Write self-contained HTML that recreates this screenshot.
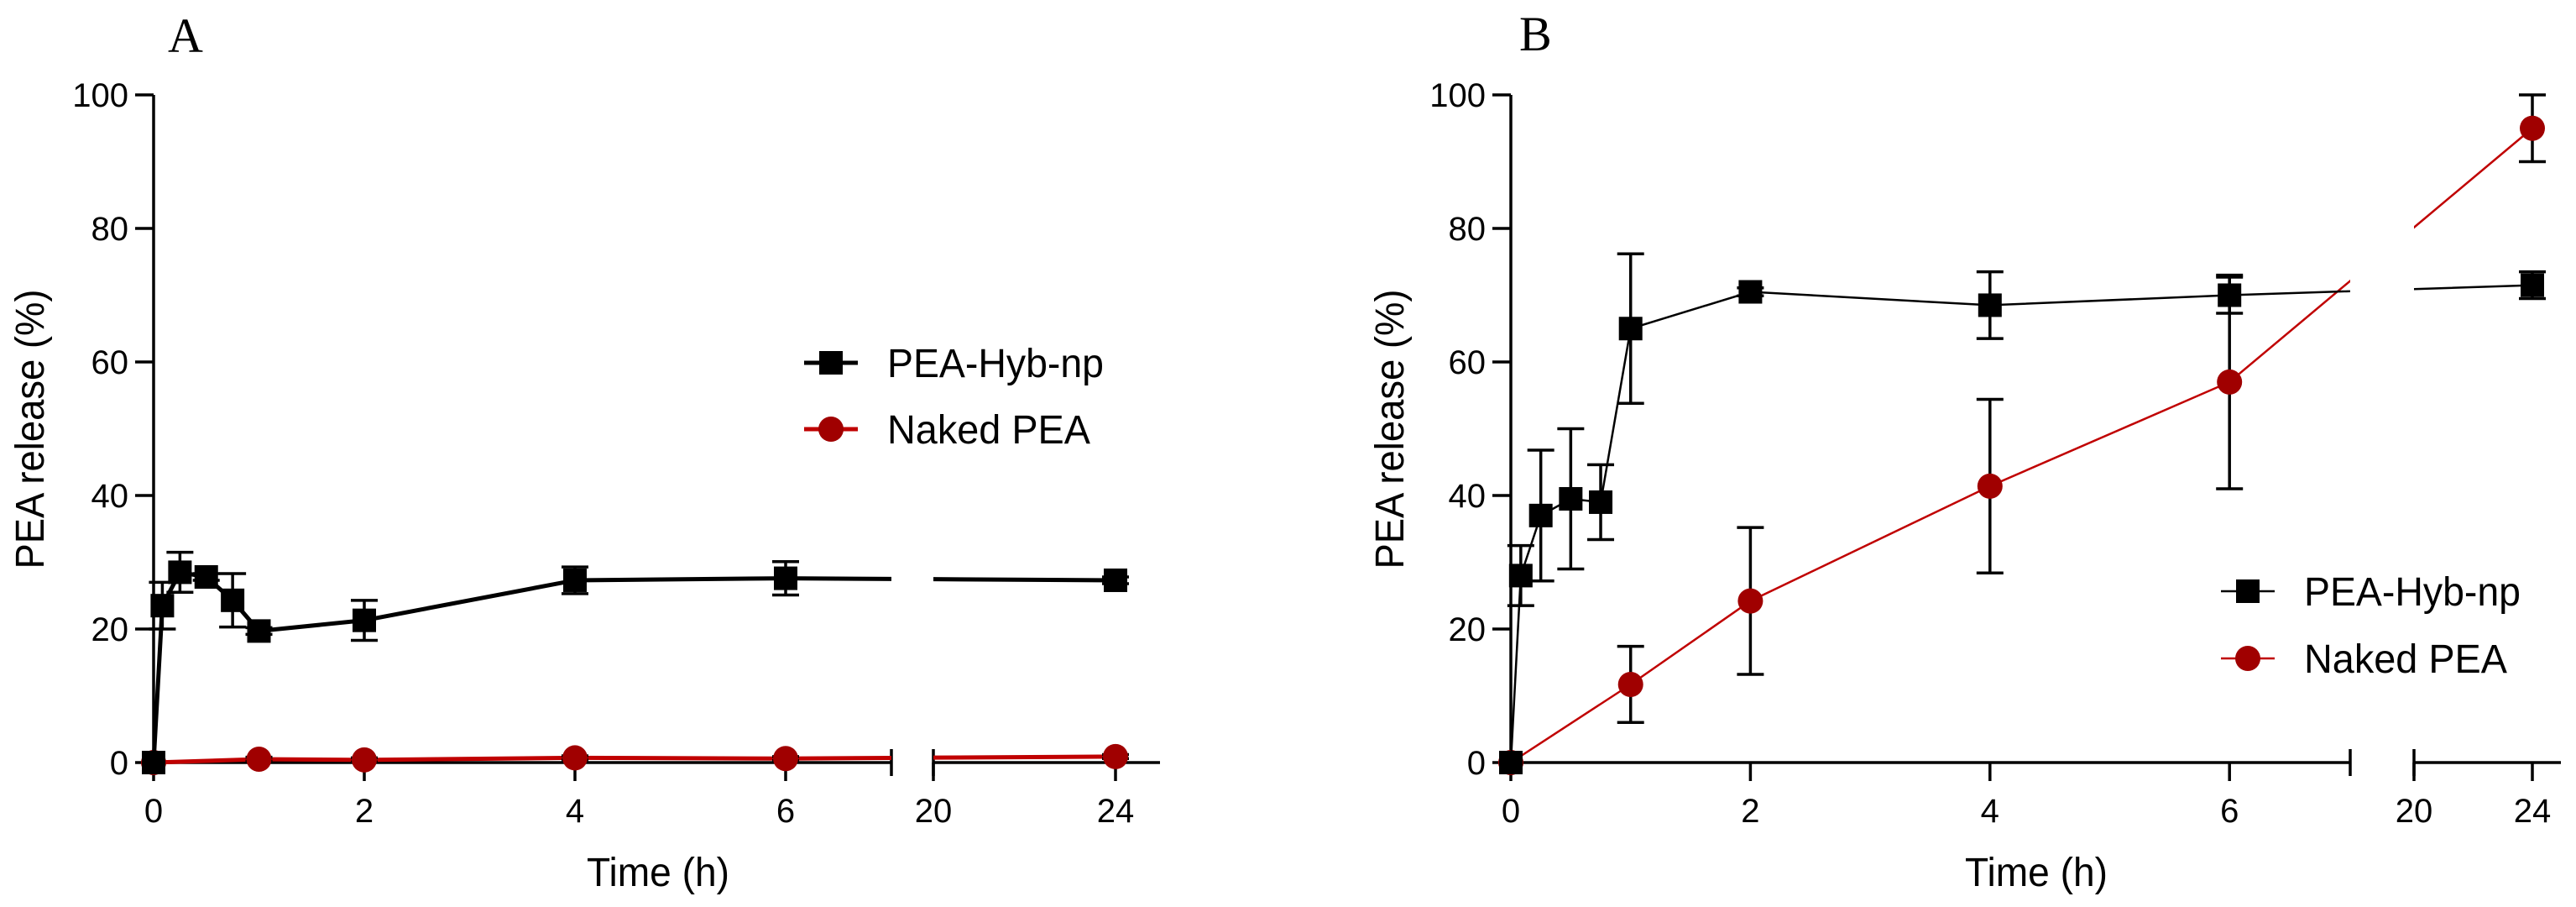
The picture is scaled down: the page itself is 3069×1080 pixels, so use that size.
<!DOCTYPE html>
<html><head><meta charset="utf-8"><style>
html,body{margin:0;padding:0;background:#fff;}
svg{display:block;}
text{font-family:"Liberation Sans",Arial,sans-serif;fill:#000;}
</style></head><body>
<svg id="svg" width="3069" height="1080" viewBox="0 0 3069 1080" xmlns="http://www.w3.org/2000/svg"></svg>
<script>
const timesHybA = [0, 0.083, 0.25, 0.5, 0.75, 1, 2, 4, 6, 24];
const hybA = [0, 23.5, 28.5, 27.8, 24.3, 19.7, 21.3, 27.3, 27.6, 27.3];
const hybErrA = [0, 3.5, 3, 0.5, 4, 0.5, 3, 2, 2.5, 0.5];
const timesNakedA = [0, 1, 2, 4, 6, 24];
const nakedA = [0, 0.5, 0.4, 0.7, 0.6, 0.9];
const nakedErrA = [0, 0.3, 0.3, 0.3, 0.3, 0.3];

const timesHybB = [0, 0.083, 0.25, 0.5, 0.75, 1, 2, 4, 6, 24];
const hybB = [0, 28, 37, 39.5, 39, 65, 70.5, 68.5, 70, 71.5];
const hybErrB = [0, 4.5, 9.8, 10.5, 5.6, 11.2, 0.6, 5, 2.7, 2];
const timesNakedB = [0, 1, 2, 4, 6, 24];
const nakedB = [0, 11.7, 24.2, 41.4, 57, 95];
const nakedErrB = [0, 5.7, 11, 13, 16, 5];

const yTicks = [0, 20, 40, 60, 80, 100];
const xTicks1 = [0, 2, 4, 6];
const xTicks2 = [20, 24];

const NS = "http://www.w3.org/2000/svg";
const svg = document.getElementById('svg');
function el(tag, attrs, parent) {
  const e = document.createElementNS(NS, tag);
  for (const k in attrs) e.setAttribute(k, attrs[k]);
  (parent || svg).appendChild(e);
  return e;
}

function panel(p) {
  const g = el('g', {});
  
  
  const y = v => p.y0 - v * p.yk;
  const x = t => t <= 7 ? p.x0 + t * p.xk1 : p.x20 + (t - 20) * p.xk2;
  const id = p.name;
  const defs = el('defs', {}, g);
  const c1 = el('clipPath', {id: id + '-c1'}, defs);
  el('rect', {x: 0, y: 0, width: p.brk, height: 1080}, c1);
  const c2 = el('clipPath', {id: id + '-c2'}, defs);
  el('rect', {x: p.x20, y: 0, width: 400, height: 1080}, c2);

  const L = el('text', {x: p.letterX, y: p.letterY, 'font-size': 58, style: 'font-family:"Liberation Serif",serif'}, g);
  L.textContent = p.letter;
  
  

  const ax = el('g', {stroke: '#000', 'stroke-width': 3.5, fill: 'none'}, g);
  
  
  el('line', {x1: p.x0, y1: y(100), x2: p.x0, y2: p.y0 + 1.75}, ax);
  el('line', {x1: p.x0, y1: p.y0, x2: p.brk, y2: p.y0}, ax);
  el('line', {x1: p.x20, y1: p.y0, x2: p.axEnd, y2: p.y0}, ax);
  el('line', {x1: p.brk, y1: p.y0 - 16, x2: p.brk, y2: p.y0 + 16}, ax);
  el('line', {x1: p.x20, y1: p.y0 - 16, x2: p.x20, y2: p.y0 + 16}, ax);
  yTicks.forEach(v => {
    el('line', {x1: p.x0 - 22, y1: y(v), x2: p.x0, y2: y(v)}, ax);
    const t = el('text', {x: p.x0 - 30, y: y(v) + 14, 'font-size': 40, 'text-anchor': 'end', stroke: 'none'}, g);
    t.textContent = v;
    
    
  });
  xTicks1.concat(xTicks2).forEach(v => {
    el('line', {x1: x(v), y1: p.y0, x2: x(v), y2: p.y0 + 22}, ax);
    const t = el('text', {x: x(v), y: 979, 'font-size': 40, 'text-anchor': 'middle'}, g);
    t.textContent = v;
    
    
  });
  const xt = el('text', {x: p.xTitleX, y: 1055, 'font-size': 48, 'text-anchor': 'middle', textLength: 170, lengthAdjust: 'spacingAndGlyphs'}, g);
  xt.textContent = 'Time (h)';
  
  
  const yt = el('text', {x: 0, y: 0, 'font-size': 48, 'text-anchor': 'middle', textLength: 333, lengthAdjust: 'spacingAndGlyphs', transform: `translate(${p.yTitleX},511) rotate(-90)`}, g);
  yt.textContent = 'PEA release (%)';
  
  

  function series(ts, vs, es, color, lineColor, shape, sname) {
    const sg = el('g', {}, g);
    
    
    const pts = ts.map((t, i) => x(t) + ',' + y(vs[i])).join(' ');
    ['-c1', '-c2'].forEach(c => {
      el('polyline', {points: pts, fill: 'none', stroke: lineColor, 'stroke-width': p.lw, 'clip-path': `url(#${id}${c})`}, sg);
    });
    ts.forEach((t, i) => {
      const cx = x(t), cy = y(vs[i]), e = es[i];
      if (e > 0) {
        const eb = el('g', {stroke: '#000', 'stroke-width': 3.5}, sg);
        
        
        el('line', {x1: cx, y1: y(vs[i] + e), x2: cx, y2: y(vs[i] - e)}, eb);
        el('line', {x1: cx - 16, y1: y(vs[i] + e), x2: cx + 16, y2: y(vs[i] + e)}, eb);
        el('line', {x1: cx - 16, y1: y(vs[i] - e), x2: cx + 16, y2: y(vs[i] - e)}, eb);
      }
      let m;
      if (shape === 'sq') m = el('rect', {x: cx - 14, y: cy - 14, width: 28, height: 28, fill: color}, sg);
      else m = el('circle', {cx: cx, cy: cy, r: 15, fill: color}, sg);
      
      
    });
  }
  series(p.tn, p.vn, p.en, '#a00000', '#c00000', 'ci', 'naked-pea-series');
  series(p.th, p.vh, p.eh, '#000', '#000', 'sq', 'pea-hyb-np-series');

  const lg = el('g', {}, g);
  
  
  const e1 = el('g', {}, lg);
  
  
  el('line', {x1: p.legX - 32, y1: p.legY1, x2: p.legX + 32, y2: p.legY1, stroke: '#000', 'stroke-width': p.lw}, e1);
  el('rect', {x: p.legX - 14, y: p.legY1 - 14, width: 28, height: 28, fill: '#000'}, e1);
  const t1 = el('text', {x: p.legX + 67, y: p.legY1 + 17, 'font-size': 48, textLength: 258, lengthAdjust: 'spacingAndGlyphs'}, e1);
  t1.textContent = 'PEA-Hyb-np';
  const e2 = el('g', {}, lg);
  
  
  el('line', {x1: p.legX - 32, y1: p.legY2, x2: p.legX + 32, y2: p.legY2, stroke: '#c00000', 'stroke-width': p.lw}, e2);
  el('circle', {cx: p.legX, cy: p.legY2, r: 15, fill: '#a00000'}, e2);
  const t2 = el('text', {x: p.legX + 67, y: p.legY2 + 17, 'font-size': 48, textLength: 242, lengthAdjust: 'spacingAndGlyphs'}, e2);
  t2.textContent = 'Naked PEA';
}

panel({name: 'panel-a', letter: 'A', letterX: 200, letterY: 62,
  x0: 183, xk1: 125.5, brk: 1062, x20: 1112, xk2: 54.25, axEnd: 1382,
  y0: 908, yk: 7.95, lw: 5, xTitleX: 784, yTitleX: 52,
  legX: 990, legY1: 432, legY2: 511,
  th: timesHybA, vh: hybA, eh: hybErrA, tn: timesNakedA, vn: nakedA, en: nakedErrA});
panel({name: 'panel-b', letter: 'B', letterX: 1810, letterY: 60,
  x0: 1800, xk1: 142.7, brk: 2800, x20: 2876, xk2: 35.25, axEnd: 3051,
  y0: 908, yk: 7.95, lw: 2.5, xTitleX: 2426, yTitleX: 1672,
  legX: 2678, legY1: 704, legY2: 784,
  th: timesHybB, vh: hybB, eh: hybErrB, tn: timesNakedB, vn: nakedB, en: nakedErrB});
</script>
</body></html>
